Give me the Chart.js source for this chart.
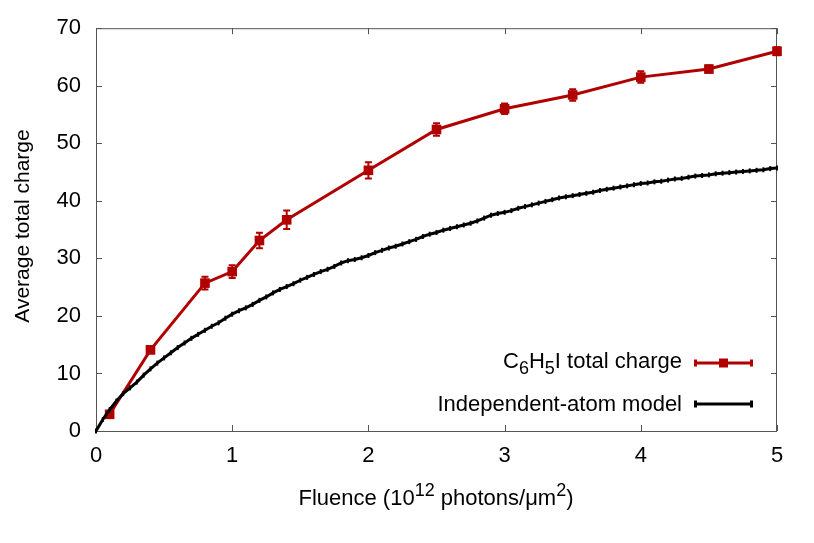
<!DOCTYPE html>
<html>
<head>
<meta charset="utf-8">
<script src="https://cdn.jsdelivr.net/npm/chart.js@4.4.0/dist/chart.umd.min.js"></script>
<style>
  html, body { margin: 0; padding: 0; background: #fff; }
  #wrap { width: 814px; height: 543px; }
</style>
</head>
<body>
<div id="wrap"><canvas id="chargeChart" width="814" height="543"></canvas></div>
<script>
// Measured C6H5I total charge (with error bars)
const redFluence = [0.1, 0.4, 0.8, 1.0, 1.2, 1.4, 2.0, 2.5, 3.0, 3.5, 4.0, 4.5, 5.0];
const redCharge  = [2.9, 14.1, 25.7, 27.7, 33.1, 36.7, 45.3, 52.4, 56.0, 58.4, 61.5, 62.9, 66.0];
const redErr     = [0.4, 0.6, 1.1, 1.1, 1.35, 1.6, 1.4, 1.1, 0.9, 1.0, 1.0, 0.6, 0.7];

// Independent-atom model curve
const modelFluence = [
  0, 0.05, 0.1, 0.15, 0.2, 0.25, 0.3, 0.35, 0.4, 0.45,
  0.5, 0.55, 0.6, 0.65, 0.7, 0.75, 0.8, 0.85, 0.9, 0.95,
  1.0, 1.05, 1.1, 1.15, 1.2, 1.25, 1.3, 1.35, 1.4, 1.45,
  1.5, 1.55, 1.6, 1.65, 1.7, 1.75, 1.8, 1.85, 1.9, 1.95,
  2.0, 2.05, 2.1, 2.15, 2.2, 2.25, 2.3, 2.35, 2.4, 2.45,
  2.5, 2.55, 2.6, 2.65, 2.7, 2.75, 2.8, 2.85, 2.9, 2.95,
  3.0, 3.05, 3.1, 3.15, 3.2, 3.25, 3.3, 3.35, 3.4, 3.45,
  3.5, 3.55, 3.6, 3.65, 3.7, 3.75, 3.8, 3.85, 3.9, 3.95,
  4.0, 4.05, 4.1, 4.15, 4.2, 4.25, 4.3, 4.35, 4.4, 4.45,
  4.5, 4.55, 4.6, 4.65, 4.7, 4.75, 4.8, 4.85, 4.9, 4.95,
  5.0
];
const modelCharge = [
  0, 2.0, 3.7, 5.2, 6.5, 7.5, 8.5, 9.7, 10.8, 11.8,
  12.7, 13.6, 14.5, 15.3, 16.1, 16.8, 17.5, 18.2, 18.8, 19.6,
  20.3, 20.9, 21.4, 22.0, 22.7, 23.3, 24.0, 24.6, 25.1, 25.6,
  26.2, 26.7, 27.2, 27.7, 28.1, 28.6, 29.2, 29.6, 29.8, 30.1,
  30.5, 31.0, 31.4, 31.8, 32.1, 32.5, 32.9, 33.3, 33.8, 34.2,
  34.5, 34.9, 35.2, 35.5, 35.8, 36.1, 36.5, 37.0, 37.5, 37.8,
  38.0, 38.3, 38.7, 39.0, 39.3, 39.6, 39.9, 40.2, 40.5, 40.7,
  40.9, 41.1, 41.3, 41.5, 41.8, 42.0, 42.2, 42.4, 42.6, 42.8,
  43.0, 43.1, 43.3, 43.4, 43.6, 43.8, 43.9, 44.1, 44.3, 44.4,
  44.5, 44.7, 44.8, 44.9, 45.0, 45.1, 45.2, 45.3, 45.4, 45.6,
  45.7
];

const xTicks = [0, 1, 2, 3, 4, 5];
const yTicks = [0, 10, 20, 30, 40, 50, 60, 70];

const FONT = '"Liberation Sans", Arial, sans-serif';
const RED = '#b00000';

// draws text runs with sub/superscripts; shift: 1 = sup, -1 = sub
function richText(ctx, parts, x, y, align, size) {
  const small = Math.round(size * 0.8);
  const widths = parts.map(p => {
    ctx.font = (p.s ? small : size) + 'px ' + FONT;
    return ctx.measureText(p.t).width;
  });
  const total = widths.reduce((a, b) => a + b, 0);
  let cx = align === 'right' ? x - total : align === 'center' ? x - total / 2 : x;
  ctx.textAlign = 'left';
  ctx.textBaseline = 'alphabetic';
  parts.forEach((p, i) => {
    ctx.font = (p.s ? small : size) + 'px ' + FONT;
    const dy = p.s === 1 ? -size * 0.4 : p.s === -1 ? size * 0.25 : 0;
    ctx.fillText(p.t, cx, y + dy);
    cx += widths[i];
  });
}

const errorBars = {
  id: 'errorBars',
  afterDatasetDraw(chart, args) {
    if (args.index !== 0) return;
    const ctx = chart.ctx, xs = chart.scales.x, ys = chart.scales.y;
    ctx.save();
    ctx.strokeStyle = RED;
    ctx.lineWidth = 2;
    redFluence.forEach((f, i) => {
      const px = xs.getPixelForValue(f);
      const top = ys.getPixelForValue(redCharge[i] + redErr[i]);
      const bot = ys.getPixelForValue(redCharge[i] - redErr[i]);
      ctx.beginPath();
      ctx.moveTo(px, top); ctx.lineTo(px, bot);
      ctx.moveTo(px - 3.5, top); ctx.lineTo(px + 3.5, top);
      ctx.moveTo(px - 3.5, bot); ctx.lineTo(px + 3.5, bot);
      ctx.stroke();
    });
    ctx.restore();
  }
};

// box border with inward ticks on all four sides
const frame = {
  id: 'frame',
  beforeDatasetsDraw(chart) {
    const ctx = chart.ctx, a = chart.chartArea;
    const xs = chart.scales.x, ys = chart.scales.y;
    ctx.save();
    ctx.strokeStyle = '#555';
    ctx.lineWidth = 1;
    ctx.strokeRect(a.left + 0.5, a.top + 0.5, a.right - a.left - 1, a.bottom - a.top);
    ctx.beginPath();
    xTicks.forEach(v => {
      const px = Math.round(xs.getPixelForValue(v)) + 0.5;
      ctx.moveTo(px, a.bottom); ctx.lineTo(px, a.bottom - 6);
      ctx.moveTo(px, a.top); ctx.lineTo(px, a.top + 6);
    });
    yTicks.forEach(v => {
      const py = Math.round(ys.getPixelForValue(v)) + 0.5;
      ctx.moveTo(a.left, py); ctx.lineTo(a.left + 6, py);
      ctx.moveTo(a.right, py); ctx.lineTo(a.right - 6, py);
    });
    ctx.stroke();
    ctx.restore();
  }
};

const labels = {
  id: 'labels',
  afterDraw(chart) {
    const ctx = chart.ctx;
    ctx.save();
    ctx.fillStyle = '#000';
    // x axis title
    richText(ctx, [
      { t: 'Fluence (10' }, { t: '12', s: 1 }, { t: ' photons/\u03bcm' }, { t: '2', s: 1 }, { t: ')' }
    ], 436, 505, 'center', 22);
    // y axis title
    ctx.translate(29, 226);
    ctx.rotate(-Math.PI / 2);
    richText(ctx, [{ t: 'Average total charge' }], 0, 0, 'center', 21);
    ctx.restore();

    // legend
    ctx.save();
    ctx.fillStyle = '#000';
    richText(ctx, [
      { t: 'C' }, { t: '6', s: -1 }, { t: 'H' }, { t: '5', s: -1 }, { t: 'I total charge' }
    ], 682, 368, 'right', 22);
    richText(ctx, [{ t: 'Independent-atom model' }], 682, 411, 'right', 22);

    const drawSample = (y, color, lw, marker) => {
      ctx.strokeStyle = color;
      ctx.lineWidth = lw;
      ctx.beginPath();
      ctx.moveTo(695, y); ctx.lineTo(752, y);
      ctx.moveTo(695.5, y - 3.5); ctx.lineTo(695.5, y + 3.5);
      ctx.moveTo(751.5, y - 3.5); ctx.lineTo(751.5, y + 3.5);
      ctx.stroke();
      if (marker) {
        ctx.fillStyle = color;
        ctx.fillRect(719, y - 4.5, 9, 9);
      }
    };
    drawSample(363, RED, 3, true);
    drawSample(404, '#000', 3, false);
    ctx.restore();
  }
};

new Chart(document.getElementById('chargeChart'), {
  type: 'line',
  data: {
    datasets: [{
      label: 'C6H5I total charge',
      data: redFluence.map((f, i) => ({ x: f, y: redCharge[i] })),
      borderColor: RED,
      backgroundColor: RED,
      borderWidth: 3,
      pointStyle: 'rect',
      pointRadius: 6.8,
      pointBorderWidth: 0,
      tension: 0,
      clip: false,
      order: 1
    }, {
      label: 'Independent-atom model',
      data: modelFluence.map((f, i) => ({ x: f, y: modelCharge[i] })),
      borderColor: '#000',
      backgroundColor: '#000',
      borderWidth: 3,
      pointStyle: 'line',
      rotation: 90,
      pointRadius: 2.5,
      pointBorderWidth: 2,
      tension: 0,
      clip: false,
      order: 0
    }]
  },
  options: {
    responsive: false,
    animation: false,
    layout: { padding: { left: 0, right: 37, top: 25, bottom: 0 } },
    plugins: {
      legend: { display: false },
      tooltip: { enabled: false }
    },
    scales: {
      x: {
        type: 'linear',
        min: 0, max: 5,
        afterFit(s) { s.height = 112; },
        afterBuildTicks(s) { s.ticks = xTicks.map(v => ({ value: v })); },
        grid: { display: false, drawTicks: false },
        border: { display: false },
        ticks: { padding: 12, color: '#000', font: { family: FONT, size: 22 } }
      },
      y: {
        min: 0, max: 70,
        afterFit(s) { s.width = 96; },
        afterBuildTicks(s) { s.ticks = yTicks.map(v => ({ value: v })); },
        grid: { display: false, drawTicks: false },
        border: { display: false },
        ticks: { padding: 15, color: '#000', font: { family: FONT, size: 22 } }
      }
    }
  },
  plugins: [frame, errorBars, labels]
});
</script>
</body>
</html>
